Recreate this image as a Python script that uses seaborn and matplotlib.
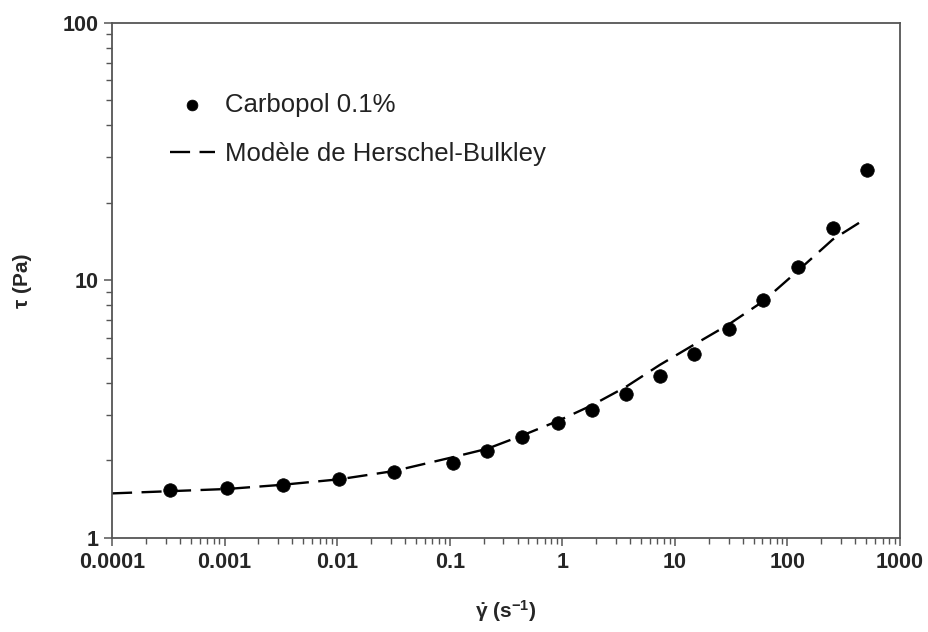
import numpy as np
import pandas as pd
import matplotlib
matplotlib.use("Agg")
import matplotlib.pyplot as plt
import seaborn as sns
from matplotlib.ticker import LogLocator, FixedLocator, NullFormatter

# Measured points (shear rate in 1/s, stress in Pa)
shear_rate = [3.3e-4, 1.05e-3, 3.3e-3, 0.0104, 0.032, 0.107, 0.215, 0.44, 0.92,
              1.82, 3.67, 7.36, 14.8, 30, 61, 124, 252, 510]
stress = [1.53, 1.56, 1.61, 1.70, 1.81, 1.96, 2.18, 2.47, 2.79,
          3.15, 3.62, 4.27, 5.20, 6.49, 8.36, 11.3, 15.9, 26.9]

# Herschel-Bulkley curve
model_rate = [1e-4, 3.3e-4, 1.05e-3, 3.3e-3, 0.0104, 0.032, 0.107, 0.215, 0.44,
              0.92, 1.82, 3.67, 7.36, 14.8, 30, 61, 124, 252, 450]
model_stress = [1.49, 1.52, 1.55, 1.61, 1.69, 1.82, 2.06, 2.22, 2.50,
                2.85, 3.27, 3.86, 4.70, 5.63, 6.74, 8.30, 10.9, 14.4, 16.9]

x_ticks = [1e-4, 1e-3, 1e-2, 1e-1, 1, 10, 100, 1000]
x_tick_labels = ["0.0001", "0.001", "0.01", "0.1", "1", "10", "100", "1000"]
y_ticks = [1, 10, 100]
y_tick_labels = ["1", "10", "100"]

labels = ["Carbopol 0.1%", "Modèle de Herschel-Bulkley"]


def main():
    sns.set_style("white")
    plt.rcParams["font.family"] = ["Liberation Sans", "DejaVu Sans"]
    plt.rcParams["mathtext.fontset"] = "custom"
    plt.rcParams["mathtext.rm"] = "Liberation Sans:bold"
    plt.rcParams["mathtext.it"] = "Liberation Sans:bold"
    plt.rcParams["mathtext.bf"] = "Liberation Sans:bold"

    df_pts = pd.DataFrame({"rate": shear_rate, "tau": stress})
    df_fit = pd.DataFrame({"rate": model_rate, "tau": model_stress})

    fig = plt.figure(figsize=(9.29, 6.32), dpi=100)
    ax = fig.add_axes([0.1206, 0.1487, 0.8482, 0.8154])

    sns.lineplot(data=df_fit, x="rate", y="tau", ax=ax, color="black",
                 linewidth=1.7, linestyle=(0, (8.5, 4)), zorder=2,
                 errorbar=None)
    sns.scatterplot(data=df_pts, x="rate", y="tau", ax=ax, color="black",
                    s=95, edgecolor="black", linewidth=0.5, zorder=3)

    ax.set_xscale("log")
    ax.set_yscale("log")
    ax.set_xlim(1e-4, 1000)
    ax.set_ylim(1, 100)

    ax.xaxis.set_major_locator(FixedLocator(x_ticks))
    ax.set_xticklabels(x_tick_labels)
    ax.yaxis.set_major_locator(FixedLocator(y_ticks))
    ax.set_yticklabels(y_tick_labels)
    ax.xaxis.set_minor_locator(LogLocator(base=10, subs=np.arange(2, 10), numticks=20))
    ax.yaxis.set_minor_locator(LogLocator(base=10, subs=np.arange(2, 10), numticks=20))
    ax.xaxis.set_minor_formatter(NullFormatter())
    ax.yaxis.set_minor_formatter(NullFormatter())

    ax.tick_params(which="major", direction="out", length=6, width=1.1,
                   color="#555555", labelsize=15.5, pad=4)
    ax.tick_params(which="minor", direction="out", length=4, width=1.0,
                   color="#555555")
    ax.tick_params(axis="both", which="both", bottom=True, left=True,
                   top=False, right=False)
    for lab in ax.get_xticklabels() + ax.get_yticklabels():
        lab.set_fontweight("bold")

    for sp in ax.spines.values():
        sp.set_color("#555555")
        sp.set_linewidth(1.3)

    ax.set_xlabel(r"$\dot{\gamma}$ (s$^{-1}$)", fontsize=15, fontweight="bold", labelpad=18)
    ax.set_ylabel("τ (Pa)", fontsize=15, fontweight="bold", labelpad=22)

    scatter_handle = [c for c in ax.collections if len(c.get_offsets()) > 0][-1]
    handles = [scatter_handle, ax.lines[0]]
    leg = ax.legend(handles, labels, loc="upper left", bbox_to_anchor=(0.057, 0.889),
                    frameon=False, fontsize=18.5, borderpad=0, handlelength=1.75,
                    handletextpad=0.4, labelspacing=1.0, markerscale=0.8)
    for t in leg.get_texts():
        t.set_color("#222222")

    fig.savefig("out.png", dpi=100)


if __name__ == "__main__":
    main()
